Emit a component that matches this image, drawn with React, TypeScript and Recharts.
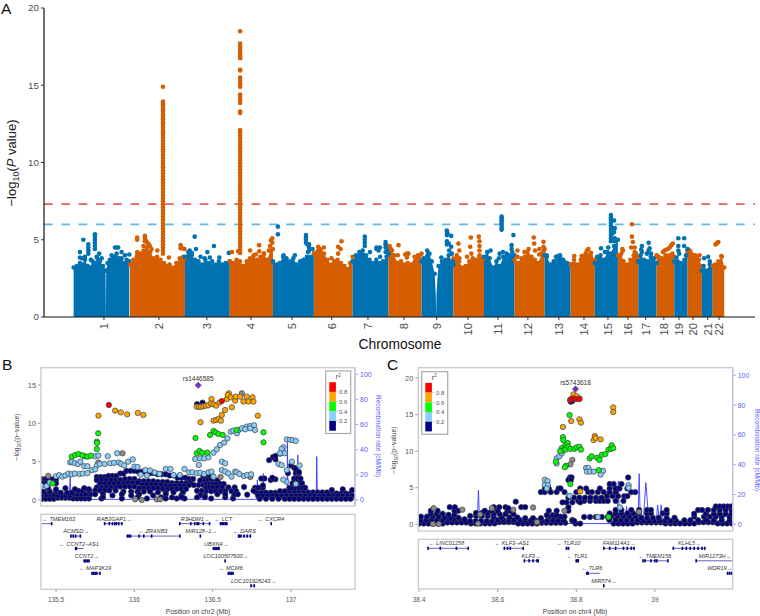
import React from "react";
import { ComposedChart, Area, Scatter, Line, XAxis, YAxis, ReferenceLine } from "recharts";

const FONT = "'Liberation Sans', Arial, sans-serif";
const BLUE = "#0072B2";
const ORANGE = "#D55E00";

// ---------- Panel A ----------
const chrLengths = [249, 243, 198, 191, 181, 171, 159, 146, 141, 135, 135, 133, 115, 107, 102, 90, 81, 78, 59, 63, 48, 51];
const chrTicks = [134, 377, 589, 784, 965, 1141, 1301, 1460, 1605, 1743, 1876, 2008, 2145, 2256, 2362, 2450, 2529, 2609, 2676, 2738, 2803, 2853];
const yTicksA = [0, 5, 10, 15, 20];

// envelope of the dense mass: [position in chromosome (Mb), top value]
const chrTops: number[][][] = [
  [[0,3.2],[14,3.3],[28,3.5],[40,3.4],[50,3.7],[62,3.3],[72,3.2],[84,3.6],[94,3.5],[105,3.8],[116,3.6],[130,3.3],[141,3],[142.5,0],[144,3],[150,3.5],[160,3.7],[168,4],[180,3.9],[190,4.1],[200,3.8],[212,3.8],[224,3.5],[234,3.7],[246,3.6]],
  [[0,3.4],[15,3.7],[30,3.9],[45,4.1],[60,4.3],[75,4.5],[90,4.2],[105,3.8],[120,3.9],[135,3.7],[150,3.5],[160,3.3],[175,3.4],[190,3.2],[205,3.5],[220,3.8],[235,3.9],[243,3.8]],
  [[0,3.9],[15,4.2],[30,4],[45,3.7],[60,3.6],[75,3.4],[90,3.7],[105,3.5],[120,3.6],[135,3.4],[150,3.6],[165,3.4],[180,3.5],[198,3.6]],
  [[0,3.6],[15,3.5],[30,3.7],[45,3.6],[60,3.3],[75,3.6],[90,3.8],[105,4],[120,3.7],[135,3.9],[150,4.1],[165,3.7],[180,4.3],[191,4.4]],
  [[0,3.6],[15,3.4],[30,3.5],[45,3.9],[60,3.8],[75,3.6],[90,3.8],[105,3.4],[120,3.6],[135,3.7],[150,3.9],[165,3.9],[181,4.1]],
  [[0,4.1],[15,4.2],[30,4.3],[45,4.1],[60,3.7],[75,3.4],[90,3.6],[105,3.7],[120,3.5],[135,3.3],[150,3.1],[160,3.5],[171,3.9]],
  [[0,3.6],[15,4],[30,4.2],[45,4.3],[60,4],[75,3.7],[90,3.5],[105,3.7],[120,3.5],[135,3.6],[150,3.9],[159,4.1]],
  [[0,4.5],[10,4.4],[25,4],[40,3.5],[55,3.6],[70,3.4],[85,3.5],[100,3.4],[115,3.9],[130,4],[146,4.1]],
  [[0,3.6],[10,3.8],[25,4.3],[35,4.1],[45,3.6],[58,2.8],[63,1.4],[64.5,0],[66,1.4],[70,2.5],[75,3.3],[90,3.6],[105,3.7],[120,4],[141,3.4]],
  [[0,3.8],[15,4],[25,3.6],[40,3.2],[55,3.3],[70,3.6],[85,3.8],[100,3.7],[115,3.9],[135,3.8]],
  [[0,3.9],[15,4.2],[25,3.8],[40,3.2],[55,3.6],[70,3.3],[85,3.9],[100,4.1],[110,4],[125,4.2],[135,4]],
  [[0,3.7],[15,3.5],[30,3.8],[45,3.9],[60,4],[75,3.9],[90,3.7],[105,3.5],[120,4.1],[133,4.4]],
  [[0,4],[10,3.9],[25,3.4],[40,3.6],[55,3.7],[70,3.8],[85,3.6],[100,3.5],[115,3.4]],
  [[0,3.4],[15,3.7],[30,3.4],[45,3.7],[60,3.9],[75,4],[90,3.9],[107,3.7]],
  [[0,3.5],[10,3.9],[25,4],[40,3.7],[55,4.2],[70,4.1],[85,4.6],[102,5]],
  [[0,4],[15,4.1],[25,3.6],[40,3.4],[55,3.7],[70,4],[80,4.1],[90,3.9]],
  [[0,3.6],[10,4],[25,3.7],[40,3.6],[55,3.9],[70,3.8],[81,3.5]],
  [[0,4],[10,3.9],[25,3.8],[40,4],[55,4],[70,4.1],[78,3.9]],
  [[0,3.6],[15,3.6],[30,3.5],[45,3.7],[59,4.3]],
  [[0,4.2],[10,4.3],[25,4],[40,3.9],[50,3.7],[63,3.3]],
  [[0,3],[8,3.3],[20,3],[35,3.4],[48,3.3]],
  [[0,3.3],[10,3.4],[25,3.6],[40,3.9],[51,3.2]],
];

// SNPs that stand out above the mass: [position in chromosome (Mb), value]
const chrPeaks: number[][][] = [
  [[43,5],[28,4.2],[65,4.7],[65,4.5],[65,4.3],[65,4.1],[94,5.35],[94,5.2],[94,5],[94,4.8],[94,4.6],[94,4.4],[28,3.85],[50,3.9],[113,4.1],[102,3.9],[124,3.8],[183,4.5],[190,4.5],[197,4.5],[212,4.2],[227,4],[246,4.05],[36,3.8],[76,3.7]],
  [[32,5.15],[32,5],[32,4.2],[32,4],[66,5.25],[66,5.1],[66,4.9],[72,4.9],[77,4.8],[83,4.7],[88,4.6],[95,4.4],[224,4.65],[224,4.45],[231,4.45],[241,4.4],[121,4.3],[172,3.85],[60,4.6],
    [146,14.9],[146,13.95],[146,13.85],[146,13.75],[146,13.6],[146,13.45],[146,13.3],[146,13.1],[146,12.95],[146,12.8],[146,12.6],[146,12.45],[146,12.3],[146,12.1],[146,11.95],[146,11.8],[146,11.6],[146,11.4],[146,11.2],[146,11],[146,10.85],[146,10.7],[146,10.5],[146,10.3],[146,10.1],[146,9.9],[146,9.7],[146,9.5],[146,9.3],[146,9.1],[146,8.9],[146,8.7],[146,8.5],[146,8.3],[146,8.1],[146,7.9],[146,7.7],[146,7.5],[146,7.3],[146,7.1],[146,6.9],[146,6.7],[146,6.5],[146,6.3],[146,6.1],[146,5.9],[146,5.7],[146,5.5],[146,5.3],[146,5.1],[146,4.9],[146,4.7],[146,4.5],[146,4.3],[146,4.1]],
  [[43,5.2],[49,4.4],[21,4.3],[99,4.2],[128,4.6],[194,4.15],[69,3.9],[87,3.8],[30,4.15],[110,3.85],[152,3.85]],
  [[10,4.2],[37,4.25],[90,4.3],[130,4.65],[130,4.25],[152,4.1],[188,5.1],[182,4.95],[178,4.6],[188,4.8],[173,4.3],[115,4.05],
    [46,18.5],[46,17.7],[46,17.5],[46,17.3],[46,17.15],[46,17],[46,16.85],[46,16.75],[46,16],[46,15.95],[46,15.5],[46,15.3],[46,15.1],[46,14.9],[46,14.4],[46,14.25],[46,14.05],[46,13.85],[46,13.3],[46,13.2],[46,12.1],[46,11.95],[46,11.75],[46,11.55],[46,11.35],[46,11.15],[46,10.95],[46,10.75],[46,10.55],[46,10.35],[46,10.15],[46,9.95],[46,9.75],[46,9.55],[46,9.35],[46,9.15],[46,8.95],[46,8.75],[46,8.55],[46,8.35],[46,8.15],[46,7.95],[46,7.75],[46,7.55],[46,7.35],[46,7.15],[46,6.95],[46,6.75],[46,6.55],[46,6.35],[46,6.15],[46,5.95],[46,5.75],[46,5.55],[46,5.35],[46,5.15],[46,4.95],[46,4.75],[46,4.55],[46,4.35],[46,4.15]],
  [[22,5.85],[22,5.35],[146,5.3],[146,5.15],[146,5],[146,4.8],[152,4.7],[160,4.7],[160,4.5],[160,4.3],[175,4.4],[97,4],[47,4],[155,4.2]],
  [[122,4.9],[107,4.55],[107,4.1],[118,4.4],[19,4.55],[44,4.5],[19,4.3],[78,3.8],[26,4.4]],
  [[54,5.2],[54,5],[54,4.8],[54,4.6],[77,4.2],[106,4.4],[106,4.5],[121,4.5],[115,4.3],[146,4.85],[146,4.7],[146,4.5],[146,4.2],[152,4.6],[152,4.3],[122,3.9]],
  [[44,4.65],[15,4.3],[41,4],[74,4.05],[88,4.1],[81,3.85],[81,4.1],[5,4.6]],
  [[87,3.85],[112,5.6],[112,5.5],[115,5.4],[112,5.3],[131,5.25],[112,4.9],[112,4.7],[120,4.75],[131,4.55],[134,4.1],[122,4.3],[138,3.6]],
  [[22,4.75],[26,4.3],[77,5.15],[74,4.55],[112,5.2],[115,4.9],[115,4.6],[115,4.3],[115,4],[79,4.1],[60,3.9],[26,3.8]],
  [[78,6.5],[78,6.4],[78,6.3],[78,6.2],[78,6.05],[78,5.9],[78,5.75],[78,5.65],[130,5.3],[122,4.65],[122,4.4],[69,4.1],[84,4.2],[29,4.3],[15,4.2],[66,3.8]],
  [[13,4.3],[44,4.2],[62,4.4],[57,4.2],[85,5.15],[87,4.75],[110,4.4],[128,4.87],[128,4.55],[128,4.25],[91,4.3],[109,4.05],[13,3.9]],
  [[9,4],[68,4],[50,3.9],[82,3.7],[60,3.95]],
  [[16,3.95],[49,3.95],[78,4.4],[66,4.1],[90,4.15],[72,4.3]],
  [[27,4.45],[44,4.2],[71,6.6],[71,6.45],[71,6.3],[71,6.1],[71,5.9],[71,5.7],[71,5.5],[71,5.3],[71,5.1],[71,4.9],[85,6.25],[88,5.75],[85,5.5],[88,5.1],[88,4.9],[59,4.5],[78,5.75],[78,5.4]],
  [[22,4.3],[62,6],[62,5.2],[66,4.85],[59,4.5],[74,4.5],[74,4.2],[19,4.4]],
  [[16,4.6],[13,4.35],[46,4.8],[50,4.45],[38,4.1],[57,4.1],[46,4.3],[16,4.2]],
  [[35,4.3],[50,4.4],[65,4.65],[72,4.75],[28,4.2],[42,4.35],[58,4.5],[10,3.8]],
  [[18,5.1],[44,5.1],[18,4.6],[44,4.6],[22,4.1],[10,3.85],[52,4],[59,4.4],[18,4.3]],
  [[12,4.2],[53,4],[35,4],[20,4.05]],
  [[10,3.8],[28,3.9],[35,3.6]],
  [[13,4.7],[19,4.78],[25,4.85],[38,3.95]],
];

const chrStarts = chrLengths.map((_, i) => chrLengths.slice(0, i).reduce((a, b) => a + b, 0));
const chrColor = (i: number) => (i % 2 === 0 ? BLUE : ORANGE);
const areaData = chrTops.map((pts, i) => pts.map(([p, v]) => ({ x: chrStarts[i] + p, top: v })));
const peakData = chrPeaks.map((pts, i) => pts.map(([p, v]) => ({ x: chrStarts[i] + p, y: v })));

// ---------- Panel B ----------
const bNavyRows: [number, number[]][] = [
  [0.15, [135.41,135.435,135.46,135.485]],[0.3, [135.51,135.535,135.56,135.585]],[0.2, [135.61,135.635,135.66,135.685,135.71]],
  [0.7, [135.415,135.44,135.465,135.49]],[0.55, [135.515,135.54,135.565,135.59]],[0.75, [135.615,135.64,135.665,135.69,135.72]],
  [1.1, [135.42,135.46,135.5]],[0.95, [135.53,135.57,135.6]],[1.2, [135.64,135.67,135.71]],
  [1.55, [135.45,135.56,135.68]],[1.4, [135.5,135.62,135.71]],
  [2.7, [135.41,135.43,135.46,135.48,135.5,135.44]],
  [2.2, [135.41,135.44,135.5]],
  // upper wavy block
  [3.0, [135.76,135.785,135.81]],[3.15, [135.835,135.86,135.885]],[3.45, [135.91,135.93]],[3.8, [135.95,135.975,136]],[3.7, [136.025,136.05]],
  [3.5, [136.075,136.1,136.125]],[3.35, [136.15,136.175,136.2]],[3.2, [136.225,136.25]],[2.9, [136.275,136.3,136.325]],[2.75, [136.35,136.375]],
  // main block
  [2.6, [135.76,135.79,135.82,135.85,135.88,135.91]],[2.75, [135.94,135.97,136]],[2.45, [136.03,136.06,136.09,136.12]],[2.35, [136.15,136.18,136.21]],[2.2, [136.24,136.27,136.3,136.33,136.36]],
  [2.15, [135.78,135.81,135.84,135.87,135.9,135.93]],[2.25, [135.96,135.99,136.02]],[2.0, [136.05,136.08,136.11,136.14,136.17]],[1.85, [136.2,136.23,136.26,136.29,136.32]],[1.95, [136.35,136.38,136.41,136.44]],
  [1.65, [135.76,135.79,135.82,135.85,135.88]],[1.75, [135.91,135.94,135.97,136]],[1.55, [136.03,136.06,136.09,136.12,136.15]],[1.45, [136.18,136.21,136.24,136.27,136.3,136.33]],
  [1.25, [135.75,135.78,135.81,135.84,135.88]],[1.1, [135.93,135.98,136.02,136.06,136.1]],[1.0, [136.15,136.2,136.25,136.31]],[1.2, [136.4,136.43,136.46]],
  [0.75, [135.75,135.8,135.92,136.03,136.2]],[0.6, [135.86,135.98,136.12,136.3,136.42,136.45]],
  [0.2, [135.79,135.92,136.08,136.2,136.27,136.32,136.49,136.63]],[0.35, [135.8,136.02,136.17,136.24,136.3,136.4,136.45,136.58]],
  // block near 136.5
  [3.05, [136.44,136.46,136.48,136.5]],
  [2.55, [136.42,136.45,136.47,136.49,136.51,136.53]],
  [2.1, [136.46,136.48,136.5,136.52,136.55,136.57]],
  [1.65, [136.46,136.48,136.5,136.53,136.56,136.6,136.64]],
  [1.15, [136.49,136.52,136.55,136.58,136.62,136.65]],
  [0.75, [136.53,136.58,136.64,136.66]],
  // right block
  [0.95, [136.78,136.81,136.84,136.87,136.9]],[1.15, [136.93,136.96,136.99,137.02,137.05,137.08]],[1.0, [137.11,137.14,137.17,137.2,137.23]],[0.85, [137.26,137.29,137.32,137.35,137.38]],
  [0.55, [136.79,136.82,136.85,136.88,136.91,136.94,136.97,137,137.03,137.06,137.09,137.12,137.15,137.18,137.21,137.24,137.27,137.3,137.33,137.36,137.39]],
  [0.15, [136.8,136.84,136.88,136.92,136.96,136.99,137.02,137.05,137.08,137.11,137.14,137.17,137.2,137.23,137.26,137.29,137.32,137.35,137.38]],
  [1.6, [136.77,136.79,136.82,136.99,137.01,137.03,137.05,137.07,137.09]],
  [2.2, [137.01,137.03,137.05,137.07]],
  [2.8, [136.83,136.81,137.02,137.04,137.06]],
  [3.5, [136.98,137.03,137.05]],
];
const bNavyPts = [[136.435,12.7],[136.4,12.5],[136.9,5.3],[136.86,5.2],[136.885,5.6],[136.9,5.75],[136.93,6.05],[137,4.5],[137.02,4.2],[137.03,4],[137.05,3.65],[136.87,2.6],[136.9,2.7],[136.88,2.9],[136.82,1.9],[137.26,1.3],[137.33,1.4],[137.39,1.3],[136.7,1.7],[136.76,1.2],[136.72,0.7]];
const bGray = [[135.924,6.09],[136.005,0.09],[136.047,0],[136.143,0.09],[136.164,0.09],[136.686,13.91],[135.68,5.7],[135.77,4.9],[135.45,3.15],[136.55,3],[136.74,3]];
const bLight = [[135.405,1.85],[135.44,1.85],[135.46,2.3],[135.5,3.1],[135.52,3.25],[135.54,3.05],[135.56,3.2],[135.58,3.45],[135.6,3.35],[135.62,3.45],[135.65,3.4],[135.67,3.45],[135.7,3.5],[135.73,3.9],[135.76,4.5],[135.59,4.9],[135.6,5],[135.62,4.8],[135.64,4.7],[135.655,5],[135.68,4.4],[135.7,4.4],[135.75,4],[135.75,5.7],[135.77,5.8],[135.83,5.72],[135.89,6.09],[135.78,4.7],[135.81,4.7],[135.845,4.8],[135.87,4.85],[135.9,4.9],[135.915,4.7],[135.935,4.5],[135.96,5],[135.99,5.3],[136,4.35],[136.02,4.3],[136.07,3.9],[136.1,3.85],[136.13,3.6],[136.16,3.4],[136.2,4.05],[136.23,4.05],[136.25,3.26],[136.29,3.26],[136.32,4.05],[136.35,3.6],[136.04,3.3],[136.08,3.2],[136.37,3.61],[136.398,3.48],[136.42,3.57],[136.445,3.39],[136.473,3.61],[136.492,3.7],[136.505,3.04],[136.558,3.91],[136.579,3.7],[136.6,3.48],[136.62,3.04],[136.643,3.7],[136.654,3.61],[136.67,3.39],[136.7,3.13],[136.72,3.26],[136.745,3.35],
  [136.388,5.35],[136.42,5.43],[136.445,5.43],[136.473,5.57],[136.505,6.17],[136.526,6.61],[136.547,7.17],[136.573,7.48],[136.594,8.04],[136.615,8.91],[136.632,9.04],[136.654,8.7],[136.666,9.13],[136.686,9.35],[136.717,9.57],[136.739,9.65],[136.764,9.74],[136.77,9.13],[136.739,9.35],[136.707,9.22],[136.411,4.57],[136.558,5],[136.579,4.78],
  [136.973,7.9],[136.994,7.85],[137.01,7.8],[137.03,7.7],[136.952,6.87],[136.94,6.65],[136.93,6.1],[136.96,6.1],[136.92,4.7],[136.94,4.55],[136.973,3.9],[137.005,5],[137.054,4.5],[136.97,2.4],[136.95,2.65],[137.03,2.1]];
const bGreen = [[135.769,8.7],[135.76,7.6],[135.762,7.45],[135.76,6.65],[136.39,8.09],[136.824,8.83],[136.824,7.52],[136.652,9.13],[136.483,8.48],[136.505,9],[136.52,8.8],[136.537,8.6],[136.564,8.48],[136.398,6.09],[136.415,6.39],[136.432,6.17],[136.466,6.17],[135.6,5.65],[135.622,5.87],[135.643,6],[135.669,5.83],[135.7,5.65],[135.722,5.78],[135.477,2.17]];
const bOrange = [[136.398,12.17],[136.413,12.13],[136.426,12.17],[136.441,12.22],[136.456,12.3],[136.471,12.35],[136.492,13.17],[136.488,12.6],[136.505,12.48],[136.522,12.3],[136.543,12.7],[136.59,13.17],[136.603,13.91],[136.596,13.7],[136.615,13.39],[136.643,12.96],[136.647,13.48],[136.675,13.48],[136.717,13.48],[136.728,12.83],[136.696,12.83],[136.754,13.39],[136.76,12.83],[136.579,11.74],[136.622,12.09],[136.788,11],[136.422,10.13],[136.505,10.35],[136.522,10.43],[136.537,10.57],[136.552,10.35],[136.558,11.09],[135.771,11],[135.877,11.65],[135.913,11.43],[135.954,11.17],[136.022,11.35],[136.058,11.09]];
const bRed = [[135.837,12.39],[136.558,12.9]];
const bLead = [[136.407,14.96]];
const bRec = [[135.404,0.5],[135.585,0.5],[135.59,20],[135.595,0.5],[136.615,0.5],[136.62,4],[136.625,0.5],[136.78,0.5],[136.785,16],[136.79,0.5],[136.82,0.5],[136.823,21],[136.826,0.5],[136.92,0.5],[136.925,9],[136.93,0.5],[136.974,0.5],[136.977,45.6],[136.98,0.5],[137.04,0.5],[137.043,35.8],[137.046,0.5],[137.16,0.5],[137.164,34.5],[137.168,0.5],[137.408,0.5]];

// ---------- Panel C ----------
const cNavyRows: [number, number[]][] = [
  [0.1, [38.4,38.412,38.424,38.436,38.448,38.46]],[0.25, [38.472,38.484,38.496,38.508,38.52]],[0.12, [38.532,38.544,38.556,38.568,38.58,38.592]],[0.3, [38.604,38.616,38.628,38.64]],[0.1, [38.652,38.664,38.676,38.688,38.7]],[0.2, [38.712,38.724,38.736,38.748,38.76,38.772]],
  [0.55, [38.404,38.418,38.432,38.446,38.46]],[0.7, [38.474,38.488,38.502,38.516]],[0.45, [38.53,38.544,38.558,38.572,38.586]],[0.6, [38.6,38.614,38.628,38.642,38.656]],[0.5, [38.67,38.684,38.698,38.712,38.726,38.74,38.754,38.768]],
  [1.05, [38.405,38.42,38.435,38.45]],[0.9, [38.465,38.48,38.5]],[1.15, [38.53,38.545,38.56,38.575]],[0.95, [38.59,38.61,38.63,38.65]],[0.85, [38.67,38.69,38.71]],[1.05, [38.73,38.745,38.76,38.77]],
  [1.45, [38.43,38.445,38.46]],[1.3, [38.475,38.49]],[1.55, [38.545,38.56,38.575]],[1.4, [38.59,38.605,38.62,38.64]],[1.25, [38.725,38.74,38.75]],
  [1.85, [38.43,38.447,38.5,38.49,38.567,38.585,38.6,38.625,38.632,38.73,38.75,38.78]],
  [2.35, [38.478,38.491,38.59,38.604,38.62,38.66,38.67,38.78]],
  [0.1, [38.798,38.81,38.895,38.907,38.919,38.931,38.943]],[0.25, [38.955,38.967,38.979,38.991,39.003,39.015]],[0.12, [39.027,39.04,39.052,39.064,39.076,39.088,39.1]],[0.28, [39.112,39.124,39.136,39.148]],[0.12, [39.16,39.172,39.184,39.196]],
  [0.6, [38.79,38.884,38.9,38.914,38.928,38.942,38.956]],[0.45, [38.97,38.984,38.998,39.012,39.026,39.04,39.054]],[0.55, [39.075,39.09,39.11,39.13,39.15,39.17,39.19]],
  [1.0, [38.82,38.835,38.85,38.865,38.88]],[1.1, [38.89,38.905,38.92,38.935,38.95]],[0.9, [38.965,38.98,38.995,39.01,39.03,39.05]],[1.05, [39.1,39.125,39.14,39.155,39.17,39.19]],
  [1.5, [38.885,38.9,38.915,38.93,38.945,38.96,38.98,38.99,39.02,39.03]],[1.45, [39.1,39.13,39.15,39.165,39.18,39.195]],
  [1.95, [38.9,38.915,38.94,38.96,38.98,38.99,39.03,39.11,39.12,39.135,39.15,39.165,39.18,39.195]],
  [2.45, [39.155,39.165,39.175,39.185,39.195]],
  [3.2, [38.805,38.82,38.835,38.85,38.86,38.87,38.88,38.9,38.92]],[3.0, [38.79,38.81,38.775,38.765]],
  [3.65, [38.78,38.794,38.808,38.822,38.836,38.85,38.864]],[3.85, [38.878,38.892,38.906,38.922,38.93]],
  [4.4, [38.71,38.72,38.735,38.75,38.77,38.8,38.83,38.84,38.855,38.87,38.885,38.9,38.94,38.95]],
  [4.9, [38.72,38.73,38.755,38.76,38.81,38.825,38.86,38.885,38.9,38.91,38.93]],
  [5.5, [38.885,38.895,38.915]],
  [6.4, [38.784,38.788,38.932]],
  [6.05, [38.78,38.786]],
];
const cNavyPts = [[38.646,3.1],[38.627,2.2],[38.786,16.75],[38.79,16.85],[38.79,0.5],[38.795,0.45]];
const cGray = [[38.437,2.2],[38.51,2],[38.585,2.2],[38.45,0.05],[38.435,0.05],[38.555,1.35],[38.79,8.8],[38.785,8.2],[38.69,2.3],[38.64,2],[38.77,1.85],[38.55,0.1],[38.7,0.3],[38.96,1.7]];
const cLight = [[38.75,8.3],[38.75,9],[38.757,9.3],[38.763,9.7],[38.72,6.1],[38.72,5.4],[38.727,5.9],[38.728,5.35],[38.725,4.9],[38.825,7.7],[38.831,7.7],[38.827,7.2],[38.835,7.2],[38.845,7.2],[38.862,7.2],[38.868,7.3],[38.862,6.8],[38.933,5.35],[38.933,5],[38.783,3.9],[38.855,1],[38.911,2.3]];
const cGreen = [[38.783,14.93],[38.766,11.9],[38.767,11.5],[38.772,10.8],[38.778,11.1],[38.763,10.4],[38.766,10.1],[38.772,10.2],[38.78,10.6],[38.785,10.3],[38.795,10.3],[38.801,10.5],[38.808,10.6],[38.812,10.2],[38.759,10],[38.748,8.55],[38.774,8],[38.771,7.8],[38.785,5.5],[38.834,9],[38.839,9.3],[38.853,9.1],[38.859,8.8],[38.865,9.5],[38.874,9.6],[38.882,10.2],[38.888,10.3],[38.89,10.8],[38.894,10.4],[38.857,7.4],[38.882,1]];
const cOrange = [[38.793,17.75],[38.801,17.5],[38.808,17.2],[38.894,15.97],[38.894,15.34],[38.787,14.1],[38.808,14.34],[38.812,13.88],[38.766,13.3],[38.847,12.06],[38.844,11.5],[38.849,11.8],[38.862,11.6],[38.81,4.5]];
const cRed = [[38.784,16.98],[38.788,17.15],[38.794,17.15],[38.801,17.1],[38.808,17.1]];
const cLead = [[38.798,18.48]];
const cRec = [[38.398,0.5],[38.548,0.5],[38.551,23],[38.554,0.5],[38.904,0.5],[38.907,29],[38.91,0.5],[38.925,0.5],[38.928,12],[38.932,0.5],[38.957,0.5],[38.96,34],[38.963,0.5],[38.97,0.5],[38.977,28],[38.985,0.5],[39.003,0.5],[39.007,13],[39.012,0.5],[39.016,13],[39.02,0.5],[39.198,0.5]];

// ---------- Gene tracks ----------
type Gene = { name: string; row: number; start: number; end: number; labelX: number; dir: "l" | "r"; exons: number[] };
const bGenes: Gene[] = [
  { name: "TMEM163", row: 0, start: 135.409, end: 135.473, labelX: 135.517, dir: "l", exons: [135.472] },
  { name: "RAB3GAP1", row: 0, start: 135.807, end: 135.926, labelX: 135.871, dir: "r", exons: [135.81,135.84,135.86,135.875,135.885,135.9,135.92] },
  { name: "R3HDM1", row: 0, start: 136.288, end: 136.483, labelX: 136.388, dir: "r", exons: [136.29,136.36,136.385,136.4,136.41,136.44,136.48] },
  { name: "LCT", row: 0, start: 136.543, end: 136.596, labelX: 136.568, dir: "l", exons: [136.55,136.56,136.57,136.58,136.59] },
  { name: "CXCR4", row: 0, start: 136.871, end: 136.877, labelX: 136.873, dir: "l", exons: [136.873] },
  { name: "ACMSD", row: 1, start: 135.59, end: 135.66, labelX: 135.628, dir: "r", exons: [135.595,135.61,135.625,135.655] },
  { name: "ZRANB3", row: 1, start: 135.951, end: 136.292, labelX: 136.118, dir: "l", exons: [135.955,135.965,135.975,136.03,136.06,136.11,136.29] },
  { name: "MIR128\u22121", row: 1, start: 136.42, end: 136.422, labelX: 136.426, dir: "r", exons: [136.421] },
  { name: "DARS", row: 1, start: 136.662, end: 136.745, labelX: 136.703, dir: "l", exons: [136.665,136.67,136.68,136.7,136.72,136.74] },
  { name: "CCNT2\u2212AS1", row: 2, start: 135.62, end: 135.675, labelX: 135.647, dir: "l", exons: [135.625,135.63] },
  { name: "UBXN4", row: 2, start: 136.498, end: 136.543, labelX: 136.522, dir: "r", exons: [136.505,136.515,136.525,136.535,136.54] },
  { name: "CCNT2", row: 3, start: 135.675, end: 135.717, labelX: 135.696, dir: "r", exons: [135.68,135.69,135.7,135.71] },
  { name: "LOC100507600", row: 3, start: 136.578, end: 136.58, labelX: 136.583, dir: "r", exons: [136.579] },
  { name: "MAP3K19", row: 4, start: 135.722, end: 135.781, labelX: 135.749, dir: "l", exons: [135.73,135.74,135.75,135.76,135.78] },
  { name: "MCM6", row: 4, start: 136.594, end: 136.632, labelX: 136.615, dir: "l", exons: [136.6,136.61,136.62,136.63] },
  { name: "LOC101928243", row: 5, start: 136.741, end: 136.771, labelX: 136.76, dir: "r", exons: [136.745,136.765] },
];
const cGenes: Gene[] = [
  { name: "LINC01258", row: 0, start: 38.422, end: 38.526, labelX: 38.47, dir: "l", exons: [38.423,38.454,38.495,38.525] },
  { name: "KLF3\u2212AS1", row: 0, start: 38.615, end: 38.667, labelX: 38.636, dir: "l", exons: [38.617,38.625,38.632,38.665] },
  { name: "TLR10", row: 0, start: 38.773, end: 38.784, labelX: 38.78, dir: "l", exons: [38.775,38.78] },
  { name: "FAM114A1", row: 0, start: 38.869, end: 38.948, labelX: 38.909, dir: "r", exons: [38.87,38.885,38.9,38.92,38.93,38.94,38.947] },
  { name: "KLHL5", row: 0, start: 39.045, end: 39.128, labelX: 39.088, dir: "r", exons: [39.047,39.07,39.08,39.09,39.1,39.11,39.12,39.127] },
  { name: "KLF3", row: 1, start: 38.666, end: 38.704, labelX: 38.685, dir: "r", exons: [38.668,38.68,38.69,38.7,38.703] },
  { name: "TLR1", row: 1, start: 38.798, end: 38.806, labelX: 38.802, dir: "l", exons: [38.8,38.803,38.805] },
  { name: "TMEM156", row: 1, start: 38.968, end: 39.034, labelX: 39.0, dir: "l", exons: [38.97,38.975,38.99,39.0,39.005,39.033] },
  { name: "MIR1273H", row: 1, start: 39.104, end: 39.197, labelX: 39.153, dir: "r", exons: [39.105] },
  { name: "TLR6", row: 2, start: 38.825, end: 38.86, labelX: 38.84, dir: "l", exons: [38.827,38.83] },
  { name: "WDR19", row: 2, start: 39.183, end: 39.197, labelX: 39.165, dir: "r", exons: [39.185,39.19,39.195] },
  { name: "MIR574", row: 3, start: 38.869, end: 38.87, labelX: 38.87, dir: "r", exons: [38.87] },
];

const bTicksX = [135.5, 136, 136.5, 137];
const cTicksX = [38.4, 38.6, 38.8, 39];
const bTicksL = [0, 5, 10, 15];
const cTicksL = [0, 5, 10, 15, 20];
const recTicks = [0, 20, 40, 60, 80, 100];
const legendLabels = ["0.8", "0.6", "0.4", "0.2"];
const legendColors = ["#ff0000", "#ffa500", "#00ff00", "#87cefa", "#000080"];

const pairs = (p: number[][]) => p.map(([x, y]) => ({ x, y }));
const rows = (r: [number, number[]][]) => r.flatMap(([y, xs]) => xs.map((x) => ({ x, y })));
const recs = (p: number[][]) => p.map(([x, rec]) => ({ x, rec }));

const dotShape = (fill: string, r = 2.7) => (p: any) => (
  <circle cx={p.cx} cy={p.cy} r={r} fill={fill} stroke="#404040" strokeWidth={0.7} />
);

function Locus(props: {
  left: number; top: number; width: number; height: number;
  mTop: number; mBottom: number; lw: number; rw: number;
  xDom: number[]; lDom: number[]; rDom: number[]; lTicks: number[];
  navy: any[]; gray: number[][]; light: number[][]; green: number[][]; orange: number[][]; red: number[][]; lead: number[][];
  rec: number[][]; leadName: string;
}) {
  return (
    <div style={{ position: "absolute", left: props.left, top: props.top }}>
      <ComposedChart width={props.width} height={props.height} margin={{ top: props.mTop, bottom: props.mBottom, left: 0, right: 0 }}>
        <XAxis type="number" dataKey="x" domain={props.xDom} allowDataOverflow hide />
        <YAxis yAxisId="l" type="number" dataKey="y" orientation="left" width={props.lw} domain={props.lDom} allowDataOverflow ticks={props.lTicks} interval={0}
          axisLine={false} tickLine={{ stroke: "#999" }} tickSize={3} tick={{ fontSize: 7.4, fill: "#555", fontFamily: FONT }} />
        <YAxis yAxisId="r" type="number" orientation="right" width={props.rw} domain={props.rDom} allowDataOverflow ticks={recTicks} interval={0}
          axisLine={{ stroke: "#9a9aff" }} tickLine={{ stroke: "#9a9aff" }} tickSize={3} tick={{ fontSize: 7, fill: "#5a5aff", fontFamily: FONT }} />
        <Line yAxisId="r" data={recs(props.rec)} dataKey="rec" stroke="#3a3aff" strokeWidth={0.9} dot={false} isAnimationActive={false} />
        <Scatter yAxisId="l" data={props.navy} dataKey="y" shape={dotShape("#000080")} isAnimationActive={false} />
        <Scatter yAxisId="l" data={pairs(props.gray)} dataKey="y" shape={dotShape("#8c8c8c")} isAnimationActive={false} />
        <Scatter yAxisId="l" data={pairs(props.light)} dataKey="y" shape={dotShape("#87cefa")} isAnimationActive={false} />
        <Scatter yAxisId="l" data={pairs(props.green)} dataKey="y" shape={dotShape("#00ff00")} isAnimationActive={false} />
        <Scatter yAxisId="l" data={pairs(props.orange)} dataKey="y" shape={dotShape("#ffa500")} isAnimationActive={false} />
        <Scatter yAxisId="l" data={pairs(props.red)} dataKey="y" shape={dotShape("#ff0000")} isAnimationActive={false} />
        <Scatter yAxisId="l" data={pairs(props.lead)} dataKey="y" isAnimationActive={false}
          shape={(p: any) => (
            <g>
              <polygon points={`${p.cx},${p.cy - 3.2} ${p.cx + 3.2},${p.cy} ${p.cx},${p.cy + 3.2} ${p.cx - 3.2},${p.cy}`} fill="#7d26cd" stroke="#555" strokeWidth={0.5} />
              <text x={p.cx} y={p.cy - 4.5} textAnchor="middle" fontSize={6.5} fill="#333" fontFamily={FONT}>{props.leadName}</text>
            </g>
          )} />
      </ComposedChart>
    </div>
  );
}

function GeneTrack(props: { left: number; top: number; width: number; height: number; mTop: number; ml: number; mr: number; xDom: number[]; yDom: number[]; ticks: number[]; genes: Gene[] }) {
  const labels = props.genes.map((g) => ({ x: g.labelX, y: g.row, name: g.name, dir: g.dir }));
  const exons = props.genes.flatMap((g) => g.exons.map((x) => ({ x, y: g.row })));
  return (
    <div style={{ position: "absolute", left: props.left, top: props.top }}>
      <ComposedChart width={props.width} height={props.height} margin={{ top: props.mTop, bottom: 0, left: props.ml, right: props.mr }}>
        <XAxis type="number" dataKey="x" domain={props.xDom} allowDataOverflow ticks={props.ticks} interval={0} height={27} axisLine={false}
          tickLine={{ stroke: "#999" }} tickSize={3} tickMargin={5} tick={{ fontSize: 6.5, fill: "#555", fontFamily: FONT }} tickFormatter={(v: number) => String(v)} />
        <YAxis type="number" dataKey="y" domain={props.yDom} reversed allowDataOverflow hide />
        {props.genes.map((g) => (
          <ReferenceLine key={g.name} segment={[{ x: g.start, y: g.row }, { x: g.end, y: g.row }]} stroke="#3b3bb0" strokeWidth={0.8} ifOverflow="visible" />
        ))}
        <Scatter data={exons} dataKey="y" isAnimationActive={false}
          shape={(p: any) => <rect x={p.cx - 0.8} y={p.cy - 1.6} width={1.6} height={3.2} fill="#000080" />} />
        <Scatter data={labels} dataKey="y" isAnimationActive={false}
          shape={(p: any) => (
            <text x={p.cx} y={p.cy - 2.9} textAnchor="middle" fontSize={5.6} fill="#333" fontFamily={FONT} fontStyle="italic">
              {p.payload.dir === "l" ? <tspan fontStyle="normal">{"\u2190 "}</tspan> : null}
              {p.payload.name}
              {p.payload.dir === "r" ? <tspan fontStyle="normal">{"\u2192"}</tspan> : null}
            </text>
          )} />
      </ComposedChart>
    </div>
  );
}

function R2Legend({ x, y, w, boxX, labelX }: { x: number; y: number; w: number; boxX: number; labelX: number }) {
  const top = y + 11.2;
  const h = 9.7;
  return (
    <g fontFamily={FONT}>
      <rect x={x} y={y} width={w} height={62.5} fill="#fff" stroke="#aaa" strokeWidth={1.2} />
      <text x={boxX + 9} y={y + 8} fontSize={7} fill="#444" textAnchor="middle">r<tspan dy={-2.5} fontSize={4.5}>2</tspan></text>
      {legendColors.map((c, i) => (
        <rect key={c} x={boxX} y={top + i * h} width={6.6} height={h} fill={c} />
      ))}
      {legendLabels.map((t, i) => (
        <g key={t}>
          <line x1={boxX + 6.6} x2={boxX + 8.6} y1={top + (i + 1) * h} y2={top + (i + 1) * h} stroke="#888" strokeWidth={0.5} />
          <text x={labelX} y={top + (i + 1) * h + 2.2} fontSize={6} fill="#555">{t}</text>
        </g>
      ))}
    </g>
  );
}

export default function App() {
  return (
    <div style={{ position: "absolute", left: 0, top: 0, width: 760, height: 616, background: "#fff", overflow: "hidden", fontFamily: FONT }}>
      <div style={{ position: "absolute", left: 0, top: 0 }}>
        <ComposedChart width={760} height={350} margin={{ top: 8, bottom: 0, left: 0, right: 5 }}>
          <XAxis type="number" dataKey="x" domain={[-131, 3012]} allowDataOverflow ticks={chrTicks} interval={0} height={33}
            axisLine={{ stroke: "#111", strokeWidth: 1.2 }} tickLine={{ stroke: "#333" }} tickSize={3}
            tick={(p: any) => {
              const idx = chrTicks.indexOf(p.payload.value) + 1;
              return (
                <text x={p.x + 3.8} y={323} transform={`rotate(-90 ${p.x + 3.8} 323)`} textAnchor="end" fontSize={11.3} fill="#4d4d4d" fontFamily={FONT}>{idx}</text>
              );
            }} />
          <YAxis type="number" dataKey="y" domain={[0, 20]} ticks={yTicksA} interval={0} width={44}
            axisLine={{ stroke: "#111", strokeWidth: 1.2 }} tickLine={{ stroke: "#333" }} tickSize={3}
            tick={{ fontSize: 9.8, fill: "#4d4d4d", fontFamily: FONT }} />
          {areaData.map((d, i) => (
            <Area key={i} data={d} dataKey="top" type="linear" stroke="none" fill={chrColor(i)} fillOpacity={1} isAnimationActive={false} activeDot={false}
              dot={(p: any) => p.payload.top > 2.5 ? <circle key={p.index} cx={p.cx} cy={p.cy} r={2.3} fill={chrColor(i)} /> : <g key={p.index} />} />
          ))}
          {peakData.map((d, i) => (
            <Scatter key={i} data={d} dataKey="y" isAnimationActive={false}
              shape={(p: any) => <circle cx={p.cx} cy={p.cy} r={2.3} fill={chrColor(i)} />} />
          ))}
          <ReferenceLine y={7.3} stroke="#e0453a" strokeOpacity={0.85} strokeWidth={1.7} strokeDasharray="8.7 8.6" />
          <ReferenceLine y={6} stroke="#56b4e9" strokeOpacity={0.95} strokeWidth={1.7} strokeDasharray="8.7 8.6" />
        </ComposedChart>
      </div>

      <Locus left={0} top={360} width={380} height={150} mTop={7.7} mBottom={4} lw={41} rw={25}
        xDom={[135.404, 137.408]} lDom={[-0.78, 17.25]} rDom={[-4.8, 105.2]} lTicks={bTicksL}
        navy={[...rows(bNavyRows), ...pairs(bNavyPts)]} gray={bGray} light={bLight} green={bGreen} orange={bOrange} red={bRed} lead={bLead} rec={bRec} leadName="rs1446585" />
      <GeneTrack left={0} top={510} width={380} height={106} mTop={4.3} ml={41} mr={25} xDom={[135.404, 137.408]} yDom={[-0.754, 5.26]} ticks={bTicksX} genes={bGenes} />

      <Locus left={380} top={360} width={380} height={175} mTop={7.7} mBottom={4} lw={38.3} rw={27.3}
        xDom={[38.398, 39.198]} lDom={[-0.91, 21.39]} rDom={[-4.5, 105.1]} lTicks={cTicksL}
        navy={[...rows(cNavyRows), ...pairs(cNavyPts)]} gray={cGray} light={cLight} green={cGreen} orange={cOrange} red={cRed} lead={cLead} rec={cRec} leadName="rs5743618" />
      <GeneTrack left={380} top={535} width={380} height={81} mTop={4.3} ml={38.3} mr={27.3} xDom={[38.398, 39.198]} yDom={[-0.72, 3.256]} ticks={cTicksX} genes={cGenes} />

      <svg width={760} height={616} style={{ position: "absolute", left: 0, top: 0, pointerEvents: "none" }}>
        <text x={1} y={14} fontSize={15.5} fill="#111" fontFamily={FONT}>A</text>
        <text x={2} y={370} fontSize={15.5} fill="#111" fontFamily={FONT}>B</text>
        <text x={387} y={370} fontSize={15.5} fill="#111" fontFamily={FONT}>C</text>

        <text x={400} y={349} fontSize={13.8} fill="#111" textAnchor="middle" fontFamily={FONT}>Chromosome</text>
        <text transform="translate(16,163) rotate(-90)" fontSize={13} fill="#222" textAnchor="middle" fontFamily={FONT}>
          {"\u2212log"}<tspan fontSize={9} dy={2.5}>10</tspan><tspan dy={-2.5}>(</tspan><tspan fontStyle="italic">P</tspan>{" value)"}
        </text>

        <rect x={41} y={367.7} width={314} height={138.3} fill="none" stroke="#c9c9c9" strokeWidth={1.3} />
        <rect x={41} y={514.3} width={314} height={75} fill="none" stroke="#c9c9c9" strokeWidth={1.3} />
        <rect x={418.3} y={367.7} width={314.4} height={163.3} fill="none" stroke="#c9c9c9" strokeWidth={1.3} />
        <rect x={418.3} y={539.3} width={314.4} height={49.7} fill="none" stroke="#c9c9c9" strokeWidth={1.3} />

        <text transform="translate(19,437) rotate(-90)" fontSize={6.8} fill="#444" textAnchor="middle" fontFamily={FONT}>
          {"\u2212log"}<tspan fontSize={5} dy={1.5}>10</tspan><tspan dy={-1.5}>{"(p\u2212value)"}</tspan>
        </text>
        <text transform="translate(396,450) rotate(-90)" fontSize={6.8} fill="#444" textAnchor="middle" fontFamily={FONT}>
          {"\u2212log"}<tspan fontSize={5} dy={1.5}>10</tspan><tspan dy={-1.5}>{"(p\u2212value)"}</tspan>
        </text>
        <text transform="translate(376,436) rotate(90)" fontSize={6.5} fill="#5a5aff" textAnchor="middle" fontFamily={FONT}>Recombination rate (cM/Mb)</text>
        <text transform="translate(755,450) rotate(90)" fontSize={6.5} fill="#5a5aff" textAnchor="middle" fontFamily={FONT}>Recombination rate (cM/Mb)</text>

        <text x={198} y={613.5} fontSize={6.8} fill="#444" textAnchor="middle" fontFamily={FONT}>Position on chr2 (Mb)</text>
        <text x={575} y={613.5} fontSize={6.8} fill="#444" textAnchor="middle" fontFamily={FONT}>Position on chr4 (Mb)</text>

        <R2Legend x={325.7} y={371} w={25} boxX={329.3} labelX={339} />
        <R2Legend x={421.7} y={371.7} w={26} boxX={425.3} labelX={436} />
      </svg>
    </div>
  );
}
